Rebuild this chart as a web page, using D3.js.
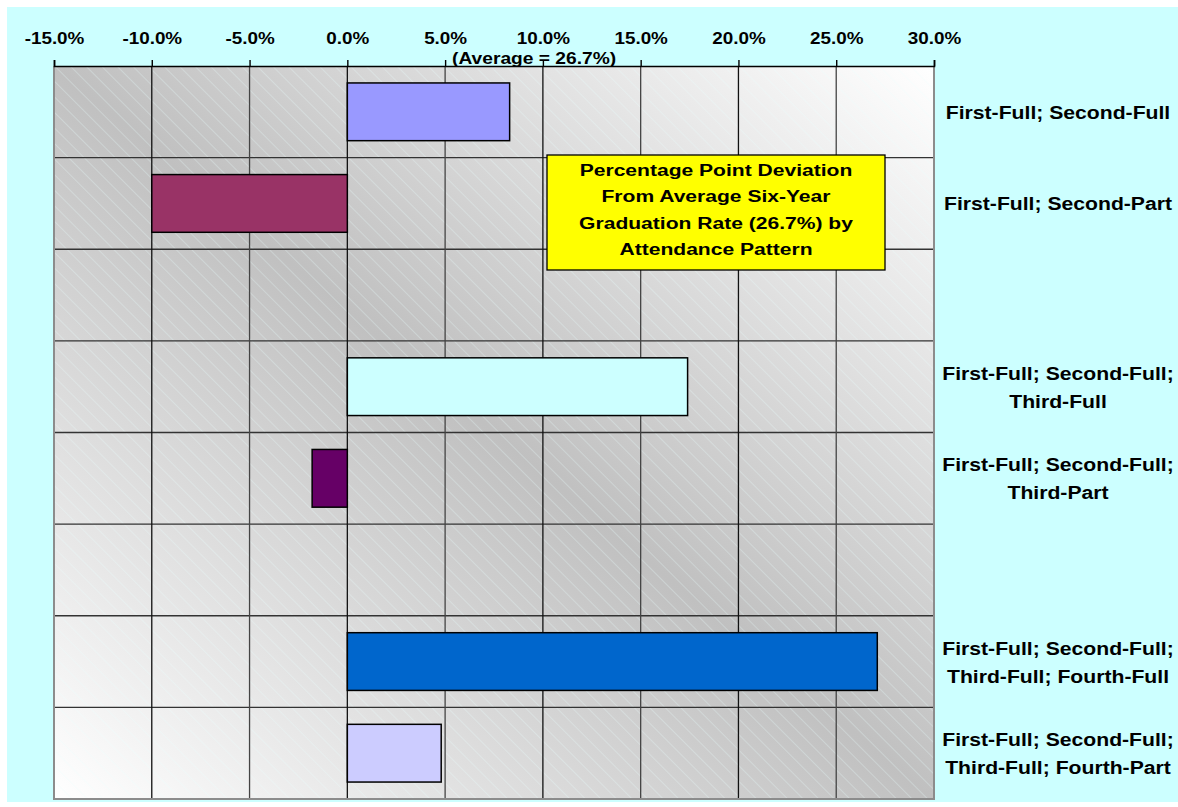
<!DOCTYPE html>
<html>
<head>
<meta charset="utf-8">
<script src="https://d3js.org/d3.v7.min.js"></script>
<style>
  body { margin: 0; background: #ffffff; }
  * { font-family: 'Liberation Sans', Arial, sans-serif; }
</style>
</head>
<body>
<div id="chart"></div>
<script>

  // categories (empty string = blank row in the original chart)
  var categories = [
    "First-Full; Second-Full",
    "First-Full; Second-Part",
    "",
    "First-Full; Second-Full;\nThird-Full",
    "First-Full; Second-Full;\nThird-Part",
    "",
    "First-Full; Second-Full;\nThird-Full; Fourth-Full",
    "First-Full; Second-Full;\nThird-Full; Fourth-Part"
  ];
  // percentage point deviation from 26.7% average
  var deviations = [8.3, -10.0, null, 17.4, -1.8, null, 27.1, 4.8];
  var barColors = ["#9999ff", "#993366", "none", "#ccffff", "#660066", "none", "#0066cc", "#ccccff"];
  var tickValues = [-15, -10, -5, 0, 5, 10, 15, 20, 25, 30];
  var titleLines = [
    "Percentage Point Deviation",
    "From Average Six-Year",
    "Graduation Rate (26.7%) by",
    "Attendance Pattern"
  ];
  var averageNote = "(Average = 26.7%)";

  var W = 1178, H = 807;
  var margin = { top: 66, right: 244, bottom: 8, left: 54 },
    width = W - margin.left - margin.right,
    height = H - margin.top - margin.bottom;

  var svg = d3.select("#chart")
    .append("svg")
    .attr("width", W)
    .attr("height", H);

  // page background
  svg.append("rect")
    .attr("x", 7).attr("y", 7)
    .attr("width", W - 7).attr("height", 802 - 7)
    .attr("fill", "#ccffff");

  var defs = svg.append("defs");
  var grad = defs.append("linearGradient")
    .attr("id", "plotGrad")
    .attr("x1", 1).attr("y1", 0)
    .attr("x2", 0).attr("y2", 1);
  grad.append("stop").attr("offset", "0%").attr("stop-color", "#ffffff");
  grad.append("stop").attr("offset", "50%").attr("stop-color", "#c0c0c0");
  grad.append("stop").attr("offset", "100%").attr("stop-color", "#ffffff");

  var pat = defs.append("pattern")
    .attr("id", "hatch")
    .attr("patternUnits", "userSpaceOnUse")
    .attr("width", 11).attr("height", 11)
    .attr("patternTransform", "rotate(-45)");
  pat.append("line")
    .attr("x1", 0).attr("y1", 0).attr("x2", 0).attr("y2", 11)
    .attr("stroke", "#e8ffff")
    .attr("stroke-width", 1)
    .attr("stroke-opacity", 0.55);

  var g = svg.append("g")
    .attr("transform", "translate(" + margin.left + "," + margin.top + ")");

  // scales
  var x = d3.scaleLinear()
    .domain([-15, 30])
    .range([0, width]);

  var y = d3.scaleBand()
    .domain(d3.range(categories.length))
    .range([0, height])
    .paddingInner(0.37)
    .paddingOuter(0.185);

  // plot area
  g.append("rect")
    .attr("width", width).attr("height", height)
    .attr("fill", "url(#plotGrad)");
  g.append("rect")
    .attr("width", width).attr("height", height)
    .attr("fill", "url(#hatch)");

  // horizontal gridlines between rows
  var step = y.step();
  g.selectAll(".hgrid")
    .data(d3.range(1, categories.length))
    .enter()
    .append("line")
    .attr("x1", 0).attr("x2", width)
    .attr("y1", function (d) { return d * step; })
    .attr("y2", function (d) { return d * step; })
    .attr("stroke", "#333")
    .attr("stroke-width", 1.3);

  // vertical gridlines
  g.selectAll(".vgrid")
    .data(tickValues.slice(1, -1))
    .enter()
    .append("line")
    .attr("x1", function (d) { return x(d); })
    .attr("x2", function (d) { return x(d); })
    .attr("y1", 0).attr("y2", height)
    .attr("stroke", function (d, i) { return i % 2 == 0 ? "#111" : "#444"; })
    .attr("stroke-width", 1.3);

  // plot border
  g.append("path")
    .attr("d", "M0,0V" + height + "H" + width + "V0")
    .attr("fill", "none")
    .attr("stroke", "#8c8c8c")
    .attr("stroke-width", 2);

  // bars
  var barData = deviations.map(function (v, i) { return { i: i, v: v }; })
    .filter(function (d) { return d.v !== null; });
  g.selectAll(".bar")
    .data(barData)
    .enter()
    .append("rect")
    .attr("x", function (d) { return x(Math.min(0, d.v)); })
    .attr("y", function (d) { return y(d.i); })
    .attr("width", function (d) { return Math.abs(x(d.v) - x(0)); })
    .attr("height", y.bandwidth())
    .attr("fill", function (d) { return barColors[d.i]; })
    .attr("stroke", "#000")
    .attr("stroke-width", 1.5);

  // top axis (labels stretched horizontally like the original)
  var xAxis = g.append("g")
    .call(d3.axisTop(x)
      .tickValues(tickValues)
      .tickSize(6)
      .tickFormat(function (d) { return d.toFixed(1) + "%"; }));
  xAxis.select(".domain").attr("stroke", "#000").attr("stroke-width", 1.6);
  xAxis.selectAll(".tick line").attr("stroke", "#000").attr("stroke-width", 1.4);
  xAxis.selectAll(".tick text")
    .attr("fill", "#000")
    .attr("y", 0)
    .attr("dy", 0)
    .attr("transform", "translate(0,-22) scale(1.11,1)")
    .style("font-size", "17px")
    .style("font-weight", "bold");

  g.append("text")
    .attr("transform", "translate(" + x(9.55) + ",-2) scale(1.2,1)")
    .attr("text-anchor", "middle")
    .style("font-size", "16px")
    .style("font-weight", "bold")
    .text(averageNote);

  // category labels on the right
  var labels = svg.append("g");
  categories.forEach(function (c, i) {
    if (!c) return;
    var lines = c.split("\n");
    var cy = margin.top + y(i) + y.bandwidth() / 2;
    var lh = 28;
    var t = labels.append("text")
      .attr("transform", "translate(1058," + cy + ") scale(1.21,1)")
      .attr("text-anchor", "middle")
      .style("font-size", "17.5px")
      .style("font-weight", "bold");
    lines.forEach(function (l, k) {
      t.append("tspan")
        .attr("x", 0)
        .attr("y", 7 + (k - (lines.length - 1) / 2) * lh)
        .text(l);
    });
  });

  // title box
  var tb = svg.append("g");
  tb.append("rect")
    .attr("x", 547).attr("y", 155)
    .attr("width", 338).attr("height", 115)
    .attr("fill", "#ffff00")
    .attr("stroke", "#000")
    .attr("stroke-width", 1.3);
  tb.selectAll("text")
    .data(titleLines)
    .enter()
    .append("text")
    .attr("transform", function (d, i) {
      return "translate(716," + (175.5 + i * 26.5) + ") scale(1.24,1)";
    })
    .attr("text-anchor", "middle")
    .style("font-size", "17px")
    .style("font-weight", "bold")
    .text(function (d) { return d; });

</script>
</body>
</html>
